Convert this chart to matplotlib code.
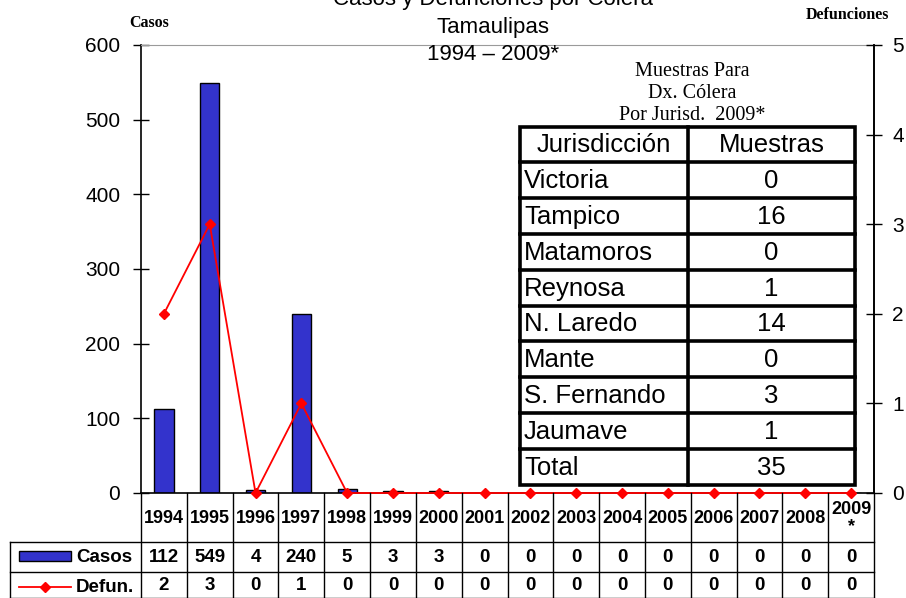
import matplotlib
matplotlib.use("Agg")
import matplotlib.pyplot as plt
from matplotlib.transforms import blended_transform_factory
from matplotlib.lines import Line2D
from matplotlib.patches import Rectangle

years = ["1994", "1995", "1996", "1997", "1998", "1999", "2000", "2001",
         "2002", "2003", "2004", "2005", "2006", "2007", "2008", "2009\n*"]
casos = [112, 549, 4, 240, 5, 3, 3, 0, 0, 0, 0, 0, 0, 0, 0, 0]
defun = [2, 3, 0, 1, 0, 0, 0, 0, 0, 0, 0, 0, 0, 0, 0, 0]

juris = ["Victoria", "Tampico", "Matamoros", "Reynosa", "N. Laredo",
         "Mante", "S. Fernando", "Jaumave", "Total"]
muestras = [0, 16, 0, 1, 14, 0, 3, 1, 35]

SANS = "Liberation Sans"
SERIF = "Liberation Serif"
plt.rcParams["font.family"] = SANS

W, H = 906, 598
fig = plt.figure(figsize=(W / 100, H / 100), dpi=100)
ax = fig.add_axes([141 / W, 1 - 493 / H, 733 / W, 448 / H])
x = list(range(len(casos)))
ax.bar(x, casos, width=0.42, color="#3333CC", edgecolor="black", linewidth=1, zorder=2)
ax.set_xlim(-0.5, len(casos) - 0.5)
ax.set_ylim(0, 600)
ax.set_yticks(range(0, 601, 100))
ax.set_xticks([])
ax.tick_params(axis="y", direction="inout", length=12, width=1, labelsize=15, pad=9)
ax.spines["top"].set_color("#9a9a9a")
for s in ["left", "bottom", "right"]:
    ax.spines[s].set_color("black")
    ax.spines[s].set_linewidth(1.2)

ax2 = ax.twinx()
ax2.plot(x, defun, color="red", marker="D", markersize=5, linewidth=1.3, clip_on=False, zorder=3)
ax2.set_ylim(0, 5)
ax2.set_yticks(range(0, 6))
ax2.tick_params(axis="y", direction="inout", length=12, width=1, labelsize=15, pad=7)
for s in ["top", "left", "bottom"]:
    ax2.spines[s].set_visible(False)
ax2.spines["right"].set_linewidth(1.2)

# overlay in pixel coordinates
ov = fig.add_axes([0, 0, 1, 1], zorder=5)
ov.set_xlim(0, W)
ov.set_ylim(H, 0)
ov.axis("off")
ov.patch.set_alpha(0)

# titles
ov.text(493, 0, "Casos y Defunciones por Cólera", ha="center", va="center", fontsize=16)
ov.text(493, 28, "Tamaulipas", ha="center", va="center", fontsize=16)
ov.text(493, 55, "1994 – 2009*", ha="center", va="center", fontsize=16)
ov.text(149, 23, "Casos", ha="center", va="center", fontsize=11.5, fontweight="bold", family=SERIF)
ov.text(847, 15, "Defunciones", ha="center", va="center", fontsize=11.5, fontweight="bold", family=SERIF)

# inset table
ov.text(692, 72, "Muestras Para", ha="center", va="center", fontsize=14.5, family=SERIF)
ov.text(692, 93, "Dx. Cólera", ha="center", va="center", fontsize=14.5, family=SERIF)
ov.text(692, 115, "Por Jurisd.  2009*", ha="center", va="center", fontsize=14.5, family=SERIF)
tl, tc, tr, tt, tb = 520, 688, 855, 126.5, 484.5
nrows = len(juris) + 1
rh = (tb - tt) / nrows
ov.add_patch(Rectangle((tl, tt), tr - tl, tb - tt, facecolor="white", edgecolor="black", linewidth=2.6, zorder=6))
ov.plot([tc, tc], [tt, tb], color="black", lw=2.6, zorder=7)
for k in range(1, nrows):
    ov.plot([tl, tr], [tt + k * rh, tt + k * rh], color="black", lw=2.6, zorder=7)
ov.text((tl + tc) / 2, tt + rh / 2 + 1, "Jurisdicción", ha="center", va="center", fontsize=18.5, zorder=8)
ov.text((tc + tr) / 2, tt + rh / 2 + 1, "Muestras", ha="center", va="center", fontsize=18.5, zorder=8)
for k, (j, m) in enumerate(zip(juris, muestras)):
    yc = tt + (k + 1.5) * rh + 1
    ov.text(tl + 4, yc, j, ha="left", va="center", fontsize=18.5, zorder=8)
    ov.text((tc + tr) / 2, yc, str(m), ha="center", va="center", fontsize=18.5, zorder=8)

# data table below axis
bt = blended_transform_factory(ax.transData, ov.transData)
y0, y1, y2, y3 = 493, 542, 572, 598
n = len(casos)
xl = -0.5 - (141 - 10) / (733 / n)
for b in range(n + 1):
    ov.add_line(Line2D([b - 0.5, b - 0.5], [y0, y3], transform=bt, color="black", lw=1, clip_on=False))
ov.add_line(Line2D([xl, xl], [y1, y3], transform=bt, color="black", lw=1, clip_on=False))
for yy in (y1, y2, y3 - 0.5):
    ov.add_line(Line2D([xl, n - 0.5], [yy, yy], transform=bt, color="black", lw=1, clip_on=False))
for i in range(n):
    ov.text(i, (y0 + y1) / 2 + 1, years[i], transform=bt, ha="center", va="center",
            fontsize=13, fontweight="bold", linespacing=1.0)
    ov.text(i, (y1 + y2) / 2 + 1, str(casos[i]), transform=bt, ha="center", va="center",
            fontsize=13.5, fontweight="bold")
    ov.text(i, (y2 + y3) / 2 + 1, str(defun[i]), transform=bt, ha="center", va="center",
            fontsize=13.5, fontweight="bold")
# legend keys
ov.add_patch(Rectangle((19, 551), 52, 10, facecolor="#3333CC", edgecolor="black", lw=1))
ov.text(76, 557, "Casos", ha="left", va="center", fontsize=13.5, fontweight="bold")
ov.plot([19, 71], [587, 587], color="red", lw=1.3)
ov.plot([45], [587], color="red", marker="D", markersize=5)
ov.text(76, 587, "Defun.", ha="left", va="center", fontsize=13.5, fontweight="bold")

fig.savefig("out.png", dpi=100)
